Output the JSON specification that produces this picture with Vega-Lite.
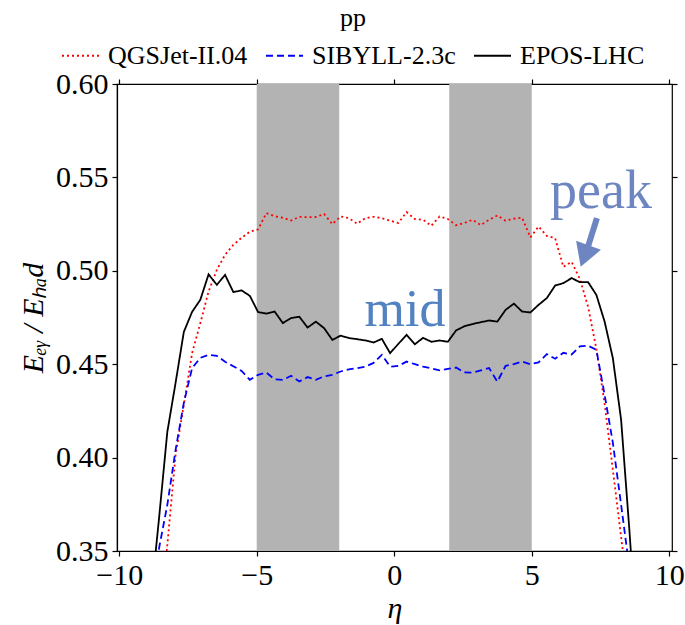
{
  "$schema": "https://vega.github.io/schema/vega-lite/v6.json",
  "width": 555,
  "height": 467,
  "autosize": {"type": "none"},
  "padding": {"left": 117, "top": 84, "right": 13, "bottom": 74},
  "background": "white",
  "config": {
    "view": {"stroke": "black", "strokeWidth": 1.2},
    "font": "Liberation Serif",
    "axis": {
      "domainColor": "black", "tickColor": "black", "labelColor": "black", "titleColor": "black",
      "grid": false, "labelFont": "Liberation Serif", "titleFont": "Liberation Serif",
      "labelFontSize": 30, "titleFontSize": 30, "titleFontWeight": "normal",
      "tickSize": 5, "tickWidth": 1.2, "domainWidth": 1.2
    }
  },
  "datasets": {
    "curves": [
      {"eta": -9.15, "QGSJet": 0.2167, "SIBYLL": 0.2274, "EPOS": 0.2702},
      {"eta": -8.85, "QGSJet": 0.2702, "SIBYLL": 0.2916, "EPOS": 0.3238},
      {"eta": -8.55, "QGSJet": 0.3077, "SIBYLL": 0.3516, "EPOS": 0.3677},
      {"eta": -8.25, "QGSJet": 0.3532, "SIBYLL": 0.3747, "EPOS": 0.4138},
      {"eta": -7.95, "QGSJet": 0.4014, "SIBYLL": 0.4041, "EPOS": 0.4400},
      {"eta": -7.65, "QGSJet": 0.4282, "SIBYLL": 0.4293, "EPOS": 0.4673},
      {"eta": -7.35, "QGSJet": 0.4560, "SIBYLL": 0.4479, "EPOS": 0.4780},
      {"eta": -7.05, "QGSJet": 0.4720, "SIBYLL": 0.4534, "EPOS": 0.4845},
      {"eta": -6.75, "QGSJet": 0.4889, "SIBYLL": 0.4550, "EPOS": 0.4981},
      {"eta": -6.45, "QGSJet": 0.5005, "SIBYLL": 0.4545, "EPOS": 0.4925},
      {"eta": -6.15, "QGSJet": 0.5086, "SIBYLL": 0.4513, "EPOS": 0.4978},
      {"eta": -5.85, "QGSJet": 0.5139, "SIBYLL": 0.4489, "EPOS": 0.4886},
      {"eta": -5.55, "QGSJet": 0.5177, "SIBYLL": 0.4464, "EPOS": 0.4895},
      {"eta": -5.25, "QGSJet": 0.5209, "SIBYLL": 0.4416, "EPOS": 0.4866},
      {"eta": -4.95, "QGSJet": 0.5222, "SIBYLL": 0.4443, "EPOS": 0.4779},
      {"eta": -4.65, "QGSJet": 0.5309, "SIBYLL": 0.4455, "EPOS": 0.4771},
      {"eta": -4.35, "QGSJet": 0.5292, "SIBYLL": 0.4419, "EPOS": 0.4782},
      {"eta": -4.05, "QGSJet": 0.5284, "SIBYLL": 0.4416, "EPOS": 0.4720},
      {"eta": -3.75, "QGSJet": 0.5269, "SIBYLL": 0.4438, "EPOS": 0.4747},
      {"eta": -3.45, "QGSJet": 0.5289, "SIBYLL": 0.4408, "EPOS": 0.4754},
      {"eta": -3.15, "QGSJet": 0.5287, "SIBYLL": 0.4431, "EPOS": 0.4696},
      {"eta": -2.85, "QGSJet": 0.5288, "SIBYLL": 0.4416, "EPOS": 0.4728},
      {"eta": -2.55, "QGSJet": 0.5304, "SIBYLL": 0.4435, "EPOS": 0.4693},
      {"eta": -2.25, "QGSJet": 0.5250, "SIBYLL": 0.4443, "EPOS": 0.4630},
      {"eta": -1.95, "QGSJet": 0.5291, "SIBYLL": 0.4461, "EPOS": 0.4653},
      {"eta": -1.65, "QGSJet": 0.5282, "SIBYLL": 0.4472, "EPOS": 0.4640},
      {"eta": -1.35, "QGSJet": 0.5252, "SIBYLL": 0.4479, "EPOS": 0.4634},
      {"eta": -1.05, "QGSJet": 0.5282, "SIBYLL": 0.4487, "EPOS": 0.4627},
      {"eta": -0.75, "QGSJet": 0.5289, "SIBYLL": 0.4507, "EPOS": 0.4616},
      {"eta": -0.45, "QGSJet": 0.5282, "SIBYLL": 0.4550, "EPOS": 0.4636},
      {"eta": -0.15, "QGSJet": 0.5268, "SIBYLL": 0.4487, "EPOS": 0.4559},
      {"eta": 0.15, "QGSJet": 0.5256, "SIBYLL": 0.4491, "EPOS": 0.4609},
      {"eta": 0.45, "QGSJet": 0.5314, "SIBYLL": 0.4514, "EPOS": 0.4657},
      {"eta": 0.75, "QGSJet": 0.5277, "SIBYLL": 0.4500, "EPOS": 0.4607},
      {"eta": 1.05, "QGSJet": 0.5273, "SIBYLL": 0.4487, "EPOS": 0.4641},
      {"eta": 1.35, "QGSJet": 0.5241, "SIBYLL": 0.4478, "EPOS": 0.4620},
      {"eta": 1.65, "QGSJet": 0.5291, "SIBYLL": 0.4467, "EPOS": 0.4627},
      {"eta": 1.95, "QGSJet": 0.5277, "SIBYLL": 0.4475, "EPOS": 0.4620},
      {"eta": 2.25, "QGSJet": 0.5244, "SIBYLL": 0.4482, "EPOS": 0.4681},
      {"eta": 2.55, "QGSJet": 0.5256, "SIBYLL": 0.4456, "EPOS": 0.4703},
      {"eta": 2.85, "QGSJet": 0.5273, "SIBYLL": 0.4455, "EPOS": 0.4715},
      {"eta": 3.15, "QGSJet": 0.5245, "SIBYLL": 0.4467, "EPOS": 0.4725},
      {"eta": 3.45, "QGSJet": 0.5273, "SIBYLL": 0.4479, "EPOS": 0.4734},
      {"eta": 3.75, "QGSJet": 0.5296, "SIBYLL": 0.4407, "EPOS": 0.4728},
      {"eta": 4.05, "QGSJet": 0.5268, "SIBYLL": 0.4491, "EPOS": 0.4791},
      {"eta": 4.35, "QGSJet": 0.5279, "SIBYLL": 0.4500, "EPOS": 0.4824},
      {"eta": 4.65, "QGSJet": 0.5284, "SIBYLL": 0.4514, "EPOS": 0.4782},
      {"eta": 4.95, "QGSJet": 0.5179, "SIBYLL": 0.4500, "EPOS": 0.4777},
      {"eta": 5.25, "QGSJet": 0.5237, "SIBYLL": 0.4510, "EPOS": 0.4818},
      {"eta": 5.55, "QGSJet": 0.5187, "SIBYLL": 0.4554, "EPOS": 0.4854},
      {"eta": 5.85, "QGSJet": 0.5175, "SIBYLL": 0.4529, "EPOS": 0.4921},
      {"eta": 6.15, "QGSJet": 0.5021, "SIBYLL": 0.4561, "EPOS": 0.4934},
      {"eta": 6.45, "QGSJet": 0.5048, "SIBYLL": 0.4552, "EPOS": 0.4961},
      {"eta": 6.75, "QGSJet": 0.4957, "SIBYLL": 0.4595, "EPOS": 0.4939},
      {"eta": 7.05, "QGSJet": 0.4807, "SIBYLL": 0.4599, "EPOS": 0.4939},
      {"eta": 7.35, "QGSJet": 0.4582, "SIBYLL": 0.4577, "EPOS": 0.4871},
      {"eta": 7.65, "QGSJet": 0.4288, "SIBYLL": 0.4336, "EPOS": 0.4728},
      {"eta": 7.95, "QGSJet": 0.3934, "SIBYLL": 0.4079, "EPOS": 0.4532},
      {"eta": 8.25, "QGSJet": 0.3575, "SIBYLL": 0.3747, "EPOS": 0.4202},
      {"eta": 8.55, "QGSJet": 0.3216, "SIBYLL": 0.3409, "EPOS": 0.3613},
      {"eta": 8.85, "QGSJet": 0.2852, "SIBYLL": 0.3024, "EPOS": 0.2970},
      {"eta": 9.15, "QGSJet": 0.2490, "SIBYLL": 0.2650, "EPOS": 0.2330}
    ],
    "bands": [
      {"start": -5, "end": -2},
      {"start": 2, "end": 5}
    ],
    "mid": [{"x": 0.39, "y": 0.4707, "label": "mid"}],
    "peak": [{"x": 7.52, "y": 0.5336, "label": "peak"}],
    "shaft": [{"x": 7.371, "y": 0.5282, "x2": 6.95, "y2": 0.5085}],
    "head": [{"x": 6.922, "y": 0.5079}]
  },
  "layer": [
    {
      "data": {"name": "bands"},
      "mark": {"type": "rect", "color": "#b3b3b3"},
      "encoding": {
        "x": {"field": "start", "type": "quantitative", "scale": {"domain": [-10.08, 10.1], "nice": false, "zero": false}, "axis": null},
        "x2": {"field": "end"}
      }
    },
    {
      "data": {"name": "curves"},
      "transform": [{"fold": ["QGSJet", "SIBYLL", "EPOS"], "as": ["model", "v"]}],
      "mark": {"type": "line", "strokeWidth": 1.8, "clip": true},
      "encoding": {
        "x": {
          "field": "eta", "type": "quantitative",
          "scale": {"domain": [-10.08, 10.1], "nice": false, "zero": false},
          "axis": {"orient": "bottom", "values": [-10, -5, 0, 5, 10], "title": "η", "titleFontStyle": "italic", "labelPadding": 4, "titlePadding": 3, "labelFlush": false}
        },
        "y": {
          "field": "v", "type": "quantitative",
          "scale": {"domain": [0.35, 0.6], "nice": false, "zero": false},
          "axis": {"orient": "left", "values": [0.35, 0.4, 0.45, 0.5, 0.55, 0.6], "format": ".2f", "title": "Eₑᵧ / Eₕₐd", "titleFontStyle": "italic", "labelPadding": 4, "titlePadding": 7, "labelFlush": false}
        },
        "color": {
          "field": "model", "type": "nominal",
          "scale": {"domain": ["QGSJet", "SIBYLL", "EPOS"], "range": ["#ff0000", "#0000ff", "#000000"]},
          "legend": {
            "orient": "none", "legendX": -56, "legendY": -79, "direction": "horizontal",
            "title": "pp", "titleOrient": "top", "titleAnchor": "middle",
            "symbolType": "stroke", "symbolSize": 1369, "symbolStrokeWidth": 2,
            "labelExpr": "datum.label == 'QGSJet' ? 'QGSJet-II.04' : datum.label == 'SIBYLL' ? 'SIBYLL-2.3c' : 'EPOS-LHC'",
            "labelFont": "Liberation Serif", "titleFont": "Liberation Serif",
            "labelFontSize": 26, "titleFontSize": 26, "titleFontWeight": "normal",
            "labelColor": "black", "titleColor": "black",
            "columnPadding": 14, "labelOffset": 8, "titlePadding": 5
          }
        },
        "strokeDash": {
          "field": "model", "type": "nominal",
          "scale": {"domain": ["QGSJet", "SIBYLL", "EPOS"], "range": [[2, 3], [7, 4], [1, 0]]},
          "legend": {
            "orient": "none", "legendX": -56, "legendY": -79, "direction": "horizontal",
            "title": "pp", "titleOrient": "top", "titleAnchor": "middle",
            "symbolType": "stroke", "symbolSize": 1369, "symbolStrokeWidth": 2,
            "labelExpr": "datum.label == 'QGSJet' ? 'QGSJet-II.04' : datum.label == 'SIBYLL' ? 'SIBYLL-2.3c' : 'EPOS-LHC'",
            "labelFont": "Liberation Serif", "titleFont": "Liberation Serif",
            "labelFontSize": 26, "titleFontSize": 26, "titleFontWeight": "normal",
            "labelColor": "black", "titleColor": "black",
            "columnPadding": 14, "labelOffset": 8, "titlePadding": 5
          }
        }
      }
    },
    {
      "data": {"name": "mid"},
      "mark": {"type": "text", "font": "Liberation Serif", "fontSize": 52, "color": "#5282c0", "align": "center", "baseline": "alphabetic"},
      "encoding": {
        "x": {"field": "x", "type": "quantitative", "scale": {"domain": [-10.08, 10.1], "nice": false, "zero": false},
          "axis": {"orient": "top", "values": [-10, -5, 0, 5, 10], "labels": false, "title": null, "domain": false}},
        "y": {"field": "y", "type": "quantitative", "scale": {"domain": [0.35, 0.6], "nice": false, "zero": false},
          "axis": {"orient": "right", "values": [0.35, 0.4, 0.45, 0.5, 0.55, 0.6], "labels": false, "title": null, "domain": false}},
        "text": {"field": "label"}
      }
    },
    {
      "data": {"name": "peak"},
      "mark": {"type": "text", "font": "Liberation Serif", "fontSize": 54, "color": "#6d86c1", "align": "center", "baseline": "alphabetic"},
      "encoding": {
        "x": {"field": "x", "type": "quantitative", "scale": {"domain": [-10.08, 10.1], "nice": false, "zero": false}, "axis": null},
        "y": {"field": "y", "type": "quantitative", "scale": {"domain": [0.35, 0.6], "nice": false, "zero": false}, "axis": null},
        "text": {"field": "label"}
      }
    },
    {
      "data": {"name": "shaft"},
      "mark": {"type": "rule", "color": "#6d86c1", "strokeWidth": 6, "strokeCap": "butt"},
      "encoding": {
        "x": {"field": "x", "type": "quantitative", "scale": {"domain": [-10.08, 10.1], "nice": false, "zero": false}, "axis": null},
        "y": {"field": "y", "type": "quantitative", "scale": {"domain": [0.35, 0.6], "nice": false, "zero": false}, "axis": null},
        "x2": {"field": "x2"},
        "y2": {"field": "y2"}
      }
    },
    {
      "data": {"name": "head"},
      "mark": {"type": "point", "shape": "triangle-down", "filled": true, "color": "#6d86c1", "size": 700, "angle": 20, "opacity": 1},
      "encoding": {
        "x": {"field": "x", "type": "quantitative", "scale": {"domain": [-10.08, 10.1], "nice": false, "zero": false}, "axis": null},
        "y": {"field": "y", "type": "quantitative", "scale": {"domain": [0.35, 0.6], "nice": false, "zero": false}, "axis": null}
      }
    }
  ],
  "resolve": {"axis": {"x": "independent", "y": "independent"}}
}
